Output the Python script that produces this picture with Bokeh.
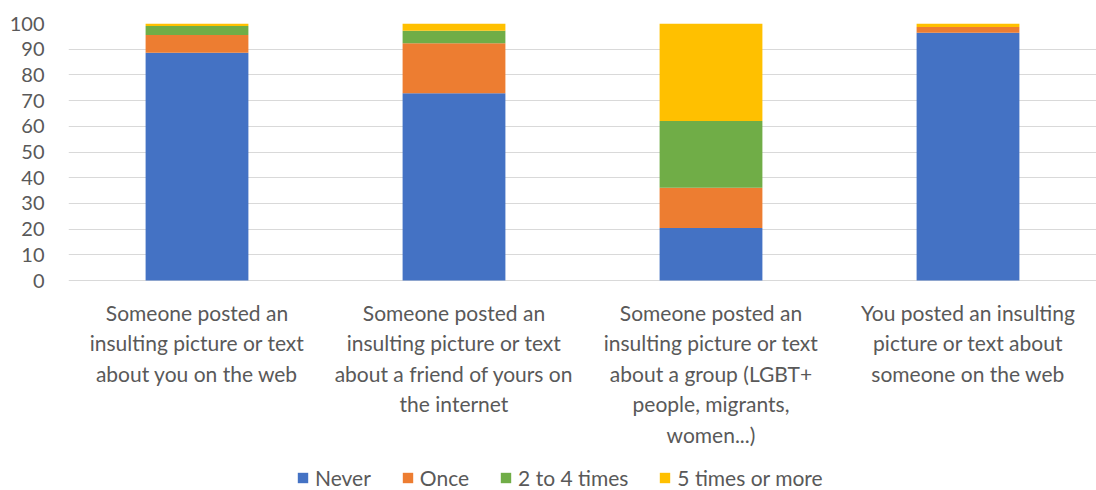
from bokeh.plotting import figure
from bokeh.models import FactorRange, Legend, LegendItem, ColumnDataSource
from bokeh.core.properties import value
from bokeh.embed import file_html
from bokeh.resources import INLINE

categories = [
    "Someone posted an\ninsulting picture or text\nabout you on the web",
    "Someone posted an\ninsulting picture or text\nabout a friend of yours on\nthe internet",
    "Someone posted an\ninsulting picture or text\nabout a group (LGBT+\npeople, migrants,\nwomen...)",
    "You posted an insulting\npicture or text about\nsomeone on the web",
]
series = ["Never", "Once", "2 to 4 times", "5 times or more"]
never = [88.6, 72.9, 20.4, 96.4]
once = [6.9, 19.4, 15.7, 2.2]
two_to_four = [3.5, 4.9, 26.0, 0.0]
five_plus = [1.0, 2.8, 37.9, 1.4]
colors = ["#4472C4", "#ED7D31", "#70AD47", "#FFC000"]
y_ticks = list(range(0, 101, 10))

FONT = "Lato"
GRAY = "#595959"

data = {"x": categories, "Never": never, "Once": once, "2 to 4 times": two_to_four,
        "5 times or more": five_plus, "base": [0] * len(categories)}
src = ColumnDataSource(data)

# frame: 100 at 23px, 0 at 280px, extends to bottom of canvas (490px)
p = figure(x_range=FactorRange(*categories, range_padding=0), y_range=(-81.7, 100),
           frame_width=1028, frame_height=467, output_backend="svg", toolbar_location=None,
           min_border_left=68, min_border_right=0, min_border_top=23, min_border_bottom=0)

rs = p.vbar_stack(series, x="x", width=0.4, color=colors, source=src, line_color=None)

# category labels under the baseline
p.text(x="x", y="base", text="x", source=src, y_offset=19,
       text_font=value(FONT), text_font_size="21px", text_color=GRAY,
       text_align="center", text_baseline="top", text_line_height=1.22)

p.xaxis.visible = False
p.yaxis.ticker = y_ticks
p.yaxis.axis_line_color = None
p.yaxis.major_tick_line_color = None
p.yaxis.minor_tick_line_color = None
p.yaxis.major_label_text_font = FONT
p.yaxis.major_label_text_font_size = "20px"
p.yaxis.major_label_text_color = GRAY
p.yaxis.major_label_standoff = 18

p.xgrid.grid_line_color = None
p.ygrid.grid_line_color = "#D9D9D9"
p.ygrid.grid_line_width = 1
p.outline_line_color = None

legend = Legend(items=[LegendItem(label=s, renderers=[r]) for s, r in zip(series, rs)],
                orientation="horizontal", location=(228, 0))
legend.label_text_font = FONT
legend.label_text_font_size = "21px"
legend.label_text_color = GRAY
legend.label_height = 16
legend.glyph_width = 13
legend.glyph_height = 13
legend.label_standoff = 6
legend.spacing = 30
legend.border_line_color = None
legend.background_fill_alpha = 0
legend.margin = 0
legend.padding = 0
p.add_layout(legend, "center")

open("out.html", "w").write(file_html(p, INLINE))
